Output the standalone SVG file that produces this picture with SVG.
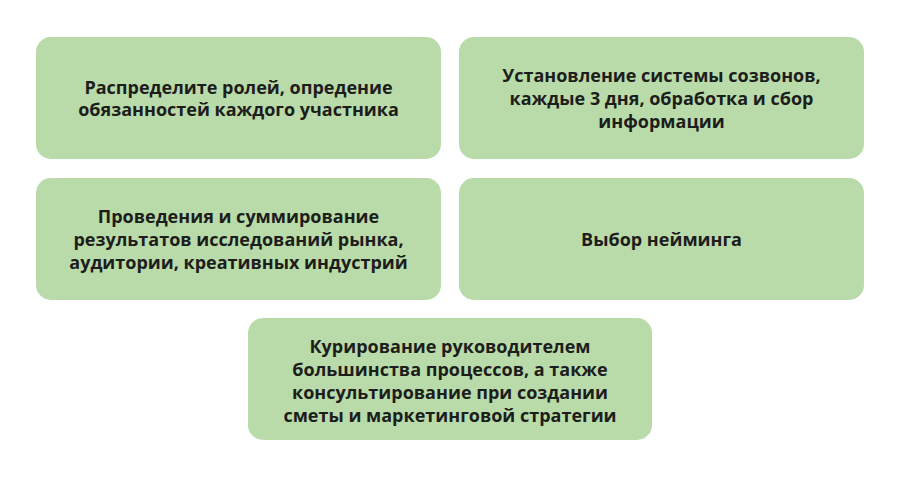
<svg xmlns="http://www.w3.org/2000/svg" width="900" height="478" viewBox="0 0 900 478">
<style>
.box{fill:#b9dba9}
.t{font-family:"Open Sans","Liberation Sans",sans-serif;font-weight:700;font-size:18px;fill:#1d1d1b;text-anchor:middle}
</style>
<rect width="900" height="478" fill="#ffffff"/>
<g id="n1"><rect class="box" x="36" y="37" width="405" height="122" rx="15"/>
<text class="t" x="238.5" y="94">Распределите ролей, опредение</text>
<text class="t" x="238.5" y="116">обязанностей каждого участника</text></g>
<g id="n2"><rect class="box" x="459" y="37" width="405" height="122" rx="15"/>
<text class="t" x="661.5" y="82">Установление системы созвонов,</text>
<text class="t" x="661.5" y="105">каждые 3 дня, обработка и сбор</text>
<text class="t" x="661.5" y="128">информации</text></g>
<g id="n3"><rect class="box" x="36" y="178" width="405" height="122" rx="15"/>
<text class="t" x="238.5" y="223">Проведения и суммирование</text>
<text class="t" x="238.5" y="246">результатов исследований рынка,</text>
<text class="t" x="238.5" y="269">аудитории, креативных индустрий</text></g>
<g id="n4"><rect class="box" x="459" y="178" width="405" height="122" rx="15"/>
<text class="t" x="661.5" y="246">Выбор нейминга</text></g>
<g id="n5"><rect class="box" x="248" y="318" width="404" height="122" rx="15"/>
<text class="t" x="450" y="353">Курирование руководителем</text>
<text class="t" x="450" y="376">большинства процессов, а также</text>
<text class="t" x="450" y="399">консультирование при создании</text>
<text class="t" x="450" y="422">сметы и маркетинговой стратегии</text></g>
<g id="connectors"/>
</svg>
